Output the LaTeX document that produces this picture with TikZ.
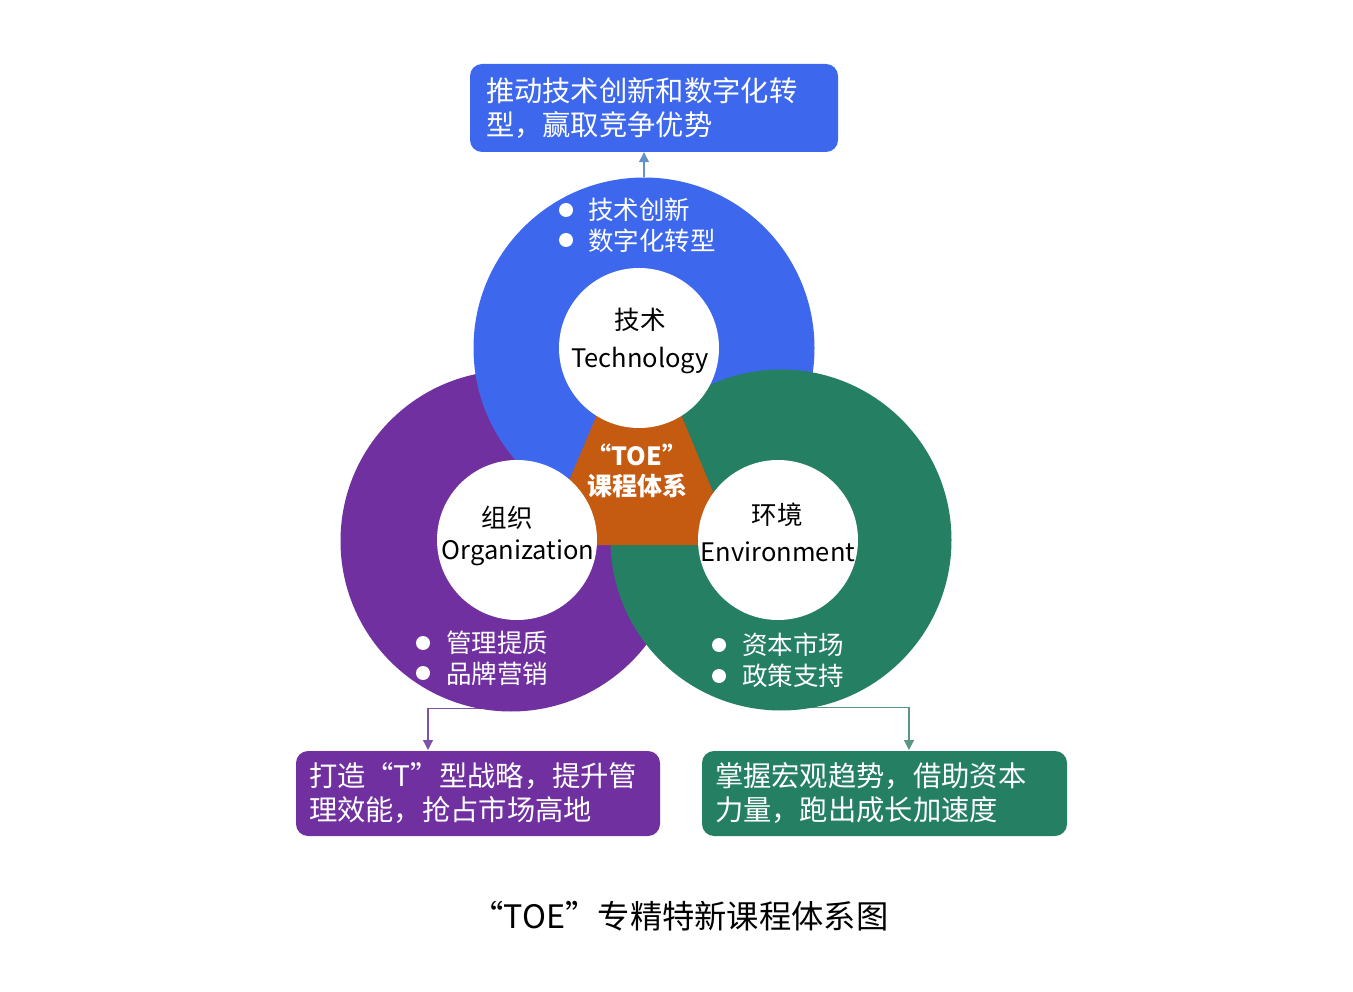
\documentclass[tikz,border=0pt]{standalone}
\usepackage{fontspec}
\setmainfont{Noto Sans CJK SC}
\usetikzlibrary{arrows.meta,calc}
\definecolor{cblue}{RGB}{61,104,238}
\definecolor{cpurple}{RGB}{112,48,160}
\definecolor{cgreen}{RGB}{36,127,99}
\definecolor{corange}{RGB}{197,90,17}
\definecolor{lblue}{RGB}{100,145,200}
\definecolor{lpurple}{RGB}{125,80,170}
\definecolor{lgreen}{RGB}{90,150,130}
\newcommand\myfs[1]{\fontsize{#1}{#1}\selectfont}
\pgfdeclarelayer{bgpaper}
\pgfdeclarelayer{bg}
\pgfsetlayers{bgpaper,bg,main}
\begin{document}
\begin{tikzpicture}[x=1pt,y=-1pt,
  ring/.style={circle, inner sep=0pt, minimum size=341pt},
  hole/.style={circle, fill=white, inner sep=0pt, minimum size=160pt},
  lbl/.style={font=\myfs{25.5}, text=black, inner sep=0pt},
  blt/.style={font=\myfs{25.5}, text=white, anchor=west, inner sep=0pt},
  dotb/.style={circle, fill=white, inner sep=0pt, minimum size=14pt},
  bigbox/.style={rounded corners=12pt, inner ysep=0pt, text=white, align=left,
    font=\fontsize{28.3}{34}\selectfont},
  conn/.style={line width=1.2pt, -{Triangle[width=10pt,length=10pt]}},
  ctr/.style={font=\bfseries\myfs{25}, text=white, inner sep=0pt}
]
\begin{pgfonlayer}{bgpaper}
\fill[white] (0,0) rectangle (1353,992);
\end{pgfonlayer}
\useasboundingbox (0,0) rectangle (1353,992);

% rings
\node[ring, fill=cpurple] (O) at (511,541) {};
\node[ring, fill=cblue] (T) at (644,348) {};
\node[ring, fill=cgreen] (E) at (781,540) {};

% centre shape
\fill[corange] (601,405) -- (677,405) -- (735,545) -- (542,545) -- cycle;

% holes
\node[hole] (Th) at (639,348) {};
\node[hole] (Oh) at (517,540) {};
\node[hole] (Eh) at (778,540) {};

% labels in holes
\node[lbl] (t1) at (640,320) {技术};
\node[lbl] (t2) at (640,361) {Technology};
\node[lbl] (o1) at (507,518) {组织};
\node[lbl] (o2) at (518,553) {Organization};
\node[lbl] (e1) at (777,515) {环境};
\node[lbl] (e2) at (778,552) {Environment};

% centre text
\node[ctr] (c1) at (637,455) {“TOE”};
\node[ctr] (c2) at (637,486) {课程体系};

% bullets
\node[dotb] (tb1) at (566,210) {};
\node[dotb] (tb2) at (566,240) {};
\node[blt] (tt1) at (588,210) {技术创新};
\node[blt] (tt2) at (588,241) {数字化转型};
\node[dotb] (ob1) at (423,643) {};
\node[dotb] (ob2) at (423,673) {};
\node[blt] (ot1) at (446,643) {管理提质};
\node[blt] (ot2) at (446,674) {品牌营销};
\node[dotb] (eb1) at (719,645) {};
\node[dotb] (eb2) at (719,676) {};
\node[blt] (et1) at (742,645) {资本市场};
\node[blt] (et2) at (742,676) {政策支持};

% boxes
\node[bigbox, fill=cblue, minimum width=368pt, minimum height=88pt, text width=336pt, inner xsep=16pt]
  (top) at (654,108) {推动技术创新和数字化转\\型，赢取竞争优势};
\node[bigbox, fill=cpurple, minimum width=364pt, minimum height=85pt, text width=338pt, inner xsep=13pt]
  (lb) at (478,793.5) {打造“T”型战略，提升管\\理效能，抢占市场高地};
\node[bigbox, fill=cgreen, minimum width=365pt, minimum height=85pt, text width=339pt, inner xsep=13pt]
  (rb) at (884.5,793.5) {掌握宏观趋势，借助资本\\力量，跑出成长加速度};

% caption
\node[font=\myfs{32.3}, inner sep=0pt] (cap) at (680,916) {“TOE”专精特新课程体系图};

% connectors
\coordinate (lend) at (428,750);
\coordinate (rend) at (909,750);
\begin{pgfonlayer}{bg}
\draw[conn, draw=lblue] (T.north) -- (T.north |- top.south);
\draw[conn, draw=lpurple] ([yshift=3pt]O.south) -| (lend);
\draw[conn, draw=lgreen] ([yshift=3pt]E.south) -| (rend);
\end{pgfonlayer}
\end{tikzpicture}
\end{document}
